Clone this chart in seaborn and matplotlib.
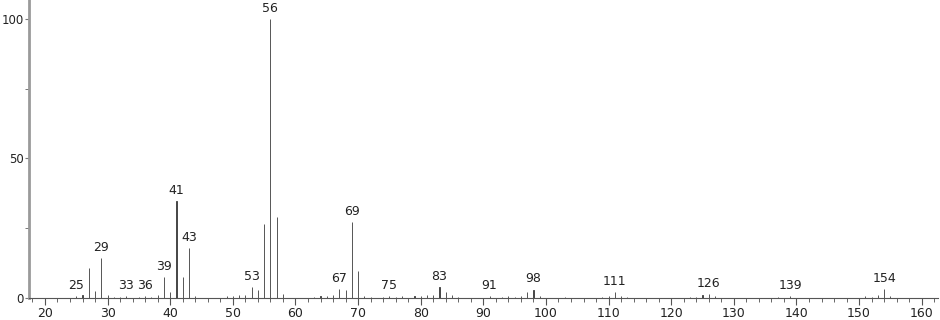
import matplotlib
matplotlib.use("Agg")
import matplotlib.pyplot as plt
from matplotlib.ticker import MultipleLocator, FixedLocator
import seaborn as sns
import pandas as pd

# m/z values and relative intensities
mz = [25, 26, 27, 28, 29, 30, 31, 32, 33, 35, 36, 37, 38, 39, 40, 41, 42, 43, 44,
      49, 50, 51, 52, 53, 54, 55, 56, 57, 58,
      63, 64, 65, 66, 67, 68, 69, 70, 71, 72, 74, 75, 76, 77, 79, 80, 81, 82,
      83, 84, 85, 86, 91, 93, 94, 95, 96, 97, 98, 99, 103, 109, 110, 111, 112,
      113, 123, 124, 125, 126, 127, 137, 139, 151, 152, 153, 154, 155]
intensity = [0.8, 1.0, 10.6, 2.5, 14.3, 1.0, 0.3, 0.3, 0.6, 0.5, 0.6, 0.3, 1.0, 7.4,
             2.3, 34.6, 7.7, 17.9, 0.6,
             0.8, 0.8, 1.0, 1.0, 4.0, 3.0, 26.4, 100.0, 29.1, 1.5,
             0.4, 0.6, 0.8, 1.0, 3.2, 2.7, 27.2, 9.8, 0.8, 0.3, 0.3, 0.6, 0.3, 0.6,
             0.6, 0.6, 1.0, 1.2,
             3.9, 2.2, 1.1, 0.3, 0.6, 0.3, 0.8, 0.5, 0.8, 2.0, 3.0, 0.7, 0.5, 0.4,
             0.6, 2.1, 0.8,
             0.3, 0.3, 0.5, 0.9, 1.4, 0.6, 0.3, 0.6, 0.6, 0.4, 1.0, 3.2, 0.7]
labelled = [25, 29, 33, 36, 39, 41, 43, 53, 56, 67, 69, 75, 83, 91, 98, 111, 126, 139, 154]
x_ticks = [20, 30, 40, 50, 60, 70, 80, 90, 100, 110, 120, 130, 140, 150, 160]
y_ticks = [0, 50, 100]

df = pd.DataFrame({"mz": mz, "intensity": intensity})

sns.set_theme(style="ticks")
plt.rcParams["font.family"] = ["DejaVu Sans"]

fig = plt.figure(figsize=(9.4, 3.2), dpi=100)
ax = fig.add_axes([29 / 940, 22 / 320, (938 - 29) / 940, 298 / 320])

sns.barplot(data=df, x="mz", y="intensity", native_scale=True, width=0.02,
            color="#3a3a3a", edgecolor="#3a3a3a", linewidth=0.6, saturation=1,
            ax=ax)
for p in ax.patches:
    p.set_snap(True)

lookup = dict(zip(mz, intensity))
for m in labelled:
    ax.annotate(str(m), xy=(m, lookup[m]), xytext=(0, 3), textcoords="offset points",
                ha="center", va="bottom", fontsize=9, color="#222222")

ax.set_xlim(17.45, 162.6)
ax.set_ylim(0, 106.8)
ax.xaxis.set_major_locator(FixedLocator(x_ticks))
ax.xaxis.set_minor_locator(MultipleLocator(2))
ax.yaxis.set_major_locator(FixedLocator(y_ticks))
ax.yaxis.set_minor_locator(FixedLocator([25, 75]))
ax.set_xticklabels([str(t) for t in x_ticks])
ax.set_yticklabels([str(t) for t in y_ticks])
ax.set_xlabel("")
ax.set_ylabel("")

ax.tick_params(axis="x", which="major", length=5, width=0.8, color="#555555",
               labelsize=9, pad=1.5, labelcolor="#222222")
ax.tick_params(axis="x", which="minor", length=3, width=0.7, color="#666666")
ax.tick_params(axis="y", which="major", length=3, width=0.8, color="#777777",
               labelsize=8.5, pad=1, labelcolor="#222222")
ax.tick_params(axis="y", which="minor", length=3, width=0.7, color="#777777")

for s in ["top", "right"]:
    ax.spines[s].set_visible(False)
ax.spines["left"].set_color("#9a9a9a")
ax.spines["left"].set_linewidth(2.0)
ax.spines["bottom"].set_color("#555555")
ax.spines["bottom"].set_linewidth(0.8)

fig.savefig("out.png", dpi=100)
